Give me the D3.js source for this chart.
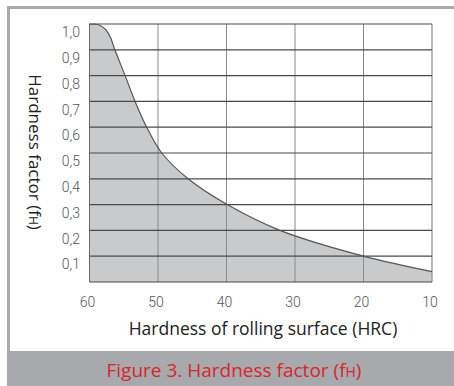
<!DOCTYPE html>
<html>
<head>
<meta charset="utf-8">
<script src="https://cdn.jsdelivr.net/npm/d3@7"></script>
<style>
  body { margin: 0; background: #fff; }
  svg { display: block; }
</style>
</head>
<body>
<svg width="454" height="386"></svg>
<script>
// curve (HRC -> fH)
const hrc = [60, 58.6, 57.6, 56.9, 56.3, 54.8, 53.35, 51.65, 49.45, 45.6, 39.9, 32.2, 20, 10];
const fh = [1.0, 0.996, 0.977, 0.946, 0.9, 0.8, 0.7, 0.6, 0.5, 0.4, 0.3, 0.2, 0.1, 0.04];
const xTicks = [60, 50, 40, 30, 20, 10];
const yTicks = [1.0, 0.9, 0.8, 0.7, 0.6, 0.5, 0.4, 0.3, 0.2, 0.1];
const yGrid = [1.0, 0.9, 0.8, 0.7, 0.6, 0.5, 0.4, 0.3, 0.2, 0.1, 0];

const svg = d3.select('svg');
const font = 'Open Sans, Lato, sans-serif';
const tickFont = 'Roboto, Liberation Sans, sans-serif';

const x = d3.scaleLinear().domain([60, 10]).range([89.5, 432]);
const y = d3.scaleLinear().domain([0, 1]).range([282, 24]);

// frame
svg.append('rect').attr('x', 7).attr('y', 6).attr('width', 447).attr('height', 3).attr('fill', '#a9abae');
svg.append('rect').attr('x', 7).attr('y', 6).attr('width', 3).attr('height', 350).attr('fill', '#a9abae');
svg.append('rect').attr('x', 7).attr('y', 351).attr('width', 447).attr('height', 35).attr('fill', '#a7a9ac');

// shaded area under the curve
const pts = hrc.map((h, i) => ({ h, v: fh[i] }));
const area = d3.area()
  .x(d => x(d.h))
  .y0(y(0))
  .y1(d => y(d.v))
  .curve(d3.curveCatmullRom);
svg.append('path').datum(pts).attr('d', area).attr('fill', '#c9cacc');

// grid
svg.append('g').selectAll('line').data(xTicks.slice(1)).join('line')
  .attr('x1', d => x(d)).attr('x2', d => x(d))
  .attr('y1', y(1)).attr('y2', y(0))
  .attr('stroke', d => d === 10 ? '#a0a0a0' : '#8a8a8a').attr('stroke-width', d => d === 10 ? 1.5 : 1);
svg.append('g').selectAll('line').data(yGrid).join('line')
  .attr('x1', x(60)).attr('x2', x(10))
  .attr('y1', d => y(d)).attr('y2', d => y(d))
  .attr('stroke', '#4a4a4a').attr('stroke-width', 1.2);
svg.append('line').attr('x1', x(60)).attr('x2', x(60)).attr('y1', y(1)).attr('y2', y(0))
  .attr('stroke', '#6a6a6a').attr('stroke-width', 1);

// curve
const line = d3.line().x(d => x(d.h)).y(d => y(d.v)).curve(d3.curveCatmullRom);
svg.append('path').datum(pts).attr('d', line)
  .attr('fill', 'none').attr('stroke', '#555').attr('stroke-width', 1.2);

// y tick labels (sit just below their gridline)
svg.append('g').selectAll('text').data(yTicks).join('text')
  .attr('x', 80).attr('y', d => y(d) + 9.5)
  .attr('dominant-baseline', 'middle')
  .attr('text-anchor', 'end')
  .attr('font-family', tickFont).attr('font-weight', 300).attr('font-size', 14).attr('fill', '#555')
  .text(d => d3.format('.1f')(d).replace('.', ','));

// x tick labels
svg.append('g').selectAll('text').data(xTicks).join('text')
  .attr('x', d => x(d) - 2).attr('y', 303)
  .attr('dominant-baseline', 'middle')
  .attr('text-anchor', 'middle')
  .attr('font-family', tickFont).attr('font-weight', 300).attr('font-size', 14).attr('fill', '#555')
  .text(d => d);

// axis titles
svg.append('text')
  .attr('x', 263).attr('y', 335)
  .attr('text-anchor', 'middle')
  .attr('font-family', font).attr('font-size', 17.5).attr('fill', '#222')
  .text('Hardness of rolling surface (HRC)');

const yt = svg.append('text')
  .attr('transform', 'translate(29,152) rotate(90)')
  .attr('text-anchor', 'middle')
  .attr('font-family', font).attr('font-size', 17).attr('fill', '#222');
yt.append('tspan').text('Hardness factor  (f');
yt.append('tspan').attr('font-size', 12).text('H');
yt.append('tspan').text(')');

// caption
const cap = svg.append('text')
  .attr('x', 234).attr('y', 377)
  .attr('text-anchor', 'middle')
  .attr('font-family', font).attr('font-size', 19).attr('fill', '#d9252e');
cap.append('tspan').text('Figure 3. Hardness factor (f');
cap.append('tspan').attr('font-size', 14).text('H');
cap.append('tspan').text(')');
</script>
</body>
</html>
